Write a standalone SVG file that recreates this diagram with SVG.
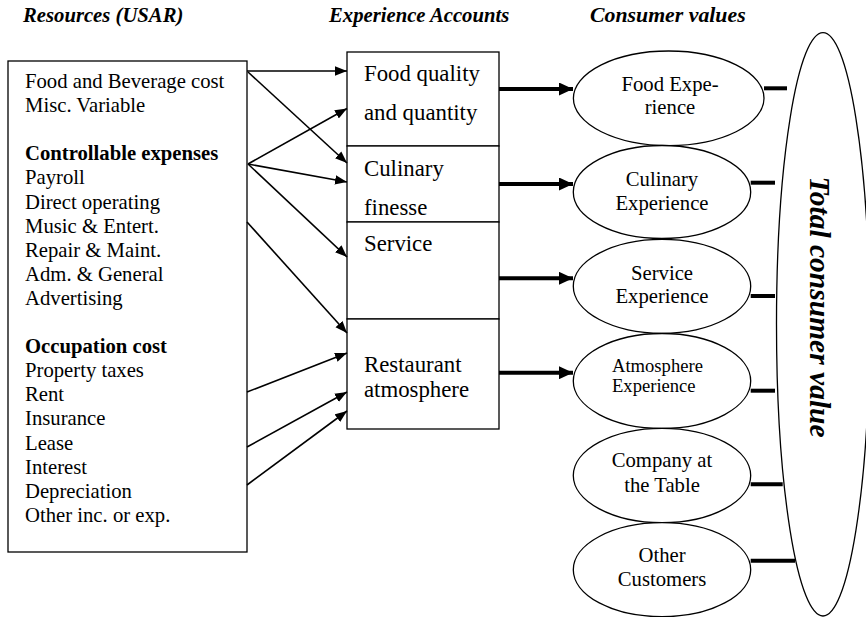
<svg xmlns="http://www.w3.org/2000/svg" width="866" height="617" viewBox="0 0 866 617" font-family="'Liberation Serif', 'Times New Roman', Times, serif">
<style>
text{font-family:'Liberation Serif','Times New Roman',Times,serif;fill:#000}
.hd{font-size:20.7px;font-weight:bold;font-style:italic}
.lb{font-size:20.7px}
.b{font-weight:bold}
.bx{font-size:22.8px}
.el{font-size:20.7px;text-anchor:middle}
.sm{font-size:18.6px}
.shape{fill:#fff;stroke:#000;stroke-width:1.3}
.thin{stroke:#000;stroke-width:1.6;fill:none;marker-end:url(#ah)}
.thick{stroke:#000;stroke-width:4;fill:none;marker-end:url(#ahb)}
.bar{stroke:#000;stroke-width:4;fill:none}
</style>
<defs>
<marker id="ah" markerUnits="userSpaceOnUse" markerWidth="12" markerHeight="10" refX="12" refY="4.7" orient="auto" viewBox="0 0 12 9.4">
<path d="M0,0 L12,4.7 L0,9.4 z" fill="#000"/>
</marker>
<marker id="ahb" markerUnits="userSpaceOnUse" markerWidth="14" markerHeight="13" refX="14" refY="6.5" orient="auto" viewBox="0 0 14 13">
<path d="M0,0 L14,6.5 L0,13 z" fill="#000"/>
</marker>
</defs>
<rect width="866" height="617" fill="#fff"/>

<g id="headers">
<text class="hd" x="23" y="22">Resources (USAR)</text>
<text class="hd" x="329" y="22">Experience Accounts</text>
<text class="hd" x="590" y="22" style="font-size:21.8px">Consumer values</text>
</g>

<g id="resources">
<rect class="shape" x="8" y="61" width="239" height="491"/>
<text class="lb" x="25" y="88">Food and Beverage cost</text>
<text class="lb" x="25" y="112.1">Misc. Variable</text>
<text class="lb b" x="25" y="160.3">Controllable expenses</text>
<text class="lb" x="25" y="184.4">Payroll</text>
<text class="lb" x="25" y="208.5">Direct operating</text>
<text class="lb" x="25" y="232.6">Music &amp; Entert.</text>
<text class="lb" x="25" y="256.7">Repair &amp; Maint.</text>
<text class="lb" x="25" y="280.8">Adm. &amp; General</text>
<text class="lb" x="25" y="304.9">Advertising</text>
<text class="lb b" x="25" y="353.1">Occupation cost</text>
<text class="lb" x="25" y="377.2">Property taxes</text>
<text class="lb" x="25" y="401.3">Rent</text>
<text class="lb" x="25" y="425.4">Insurance</text>
<text class="lb" x="25" y="449.5">Lease</text>
<text class="lb" x="25" y="473.6">Interest</text>
<text class="lb" x="25" y="497.7">Depreciation</text>
<text class="lb" x="25" y="521.8">Other inc. or exp.</text>
</g>

<g id="acc-food">
<rect class="shape" x="347" y="52" width="152" height="94"/>
<text class="bx" x="364" y="80.7">Food quality</text>
<text class="bx" x="364" y="120">and quantity</text>
</g>
<g id="acc-culinary">
<rect class="shape" x="347" y="146" width="152" height="76"/>
<text class="bx" x="364" y="176">Culinary</text>
<text class="bx" x="364" y="215">finesse</text>
</g>
<g id="acc-service">
<rect class="shape" x="347" y="222" width="152" height="97"/>
<text class="bx" x="364" y="250.7">Service</text>
</g>
<g id="acc-restaurant">
<rect class="shape" x="347" y="319" width="152" height="110"/>
<text class="bx" x="364" y="371.7">Restaurant</text>
<text class="bx" x="364" y="396.7">atmosphere</text>
</g>

<g id="total">
<ellipse class="shape" cx="823" cy="324.3" rx="46.5" ry="291.7"/>
<text class="hd" transform="translate(810,307) rotate(90)" text-anchor="middle" style="font-size:29.5px">Total consumer value</text>
</g>

<g id="cv-food">
<ellipse class="shape" cx="668.7" cy="98.3" rx="95.3" ry="47.3"/>
<text class="el" x="670" y="90.7">Food Expe-</text>
<text class="el" x="670" y="114.3">rience</text>
</g>
<g id="cv-culinary">
<ellipse class="shape" cx="662" cy="192" rx="88.7" ry="46.5"/>
<text class="el" x="662" y="186">Culinary</text>
<text class="el" x="662" y="209.5">Experience</text>
</g>
<g id="cv-service">
<ellipse class="shape" cx="662" cy="286.3" rx="88.7" ry="47"/>
<text class="el" x="662" y="279.5">Service</text>
<text class="el" x="662" y="303.3">Experience</text>
</g>
<g id="cv-atmosphere">
<ellipse class="shape" cx="662" cy="381" rx="88.7" ry="47.5"/>
<text class="lb sm" x="612" y="372.3">Atmosphere</text>
<text class="lb sm" x="612" y="392.3">Experience</text>
</g>
<g id="cv-company">
<ellipse class="shape" cx="662" cy="475.5" rx="88.7" ry="47.2"/>
<text class="el" x="662" y="466.7">Company at</text>
<text class="el" x="662" y="491.7">the Table</text>
</g>
<g id="cv-other">
<ellipse class="shape" cx="662" cy="569.7" rx="88.7" ry="47"/>
<text class="el" x="662" y="561.7">Other</text>
<text class="el" x="662" y="586">Customers</text>
</g>

<g id="connectors">
<line class="thin" x1="247" y1="71" x2="347" y2="71"/>
<line class="thin" x1="248" y1="72" x2="347" y2="163"/>
<line class="thin" x1="248" y1="164" x2="347" y2="108.5"/>
<line class="thin" x1="248" y1="164" x2="347" y2="182"/>
<line class="thin" x1="248" y1="164" x2="347" y2="257"/>
<line class="thin" x1="247" y1="222" x2="347" y2="333"/>
<line class="thin" x1="247" y1="392" x2="347" y2="353"/>
<line class="thin" x1="247" y1="447" x2="347" y2="392"/>
<line class="thin" x1="247" y1="485" x2="347" y2="411"/>
<line class="thick" x1="499" y1="89" x2="573" y2="89"/>
<line class="thick" x1="499" y1="184" x2="573" y2="184"/>
<line class="thick" x1="499" y1="278.3" x2="573" y2="278.3"/>
<line class="thick" x1="499" y1="372.7" x2="573" y2="372.7"/>
<line class="bar" x1="764" y1="88.3" x2="787" y2="88.3"/>
<line class="bar" x1="750.7" y1="182.7" x2="775" y2="182.7"/>
<line class="bar" x1="750.7" y1="296" x2="775" y2="296"/>
<line class="bar" x1="750.7" y1="390.7" x2="775" y2="390.7"/>
<line class="bar" x1="750.7" y1="484.3" x2="782.7" y2="484.3"/>
<line class="bar" x1="750.7" y1="560.7" x2="795" y2="560.7"/>
</g>
</svg>
